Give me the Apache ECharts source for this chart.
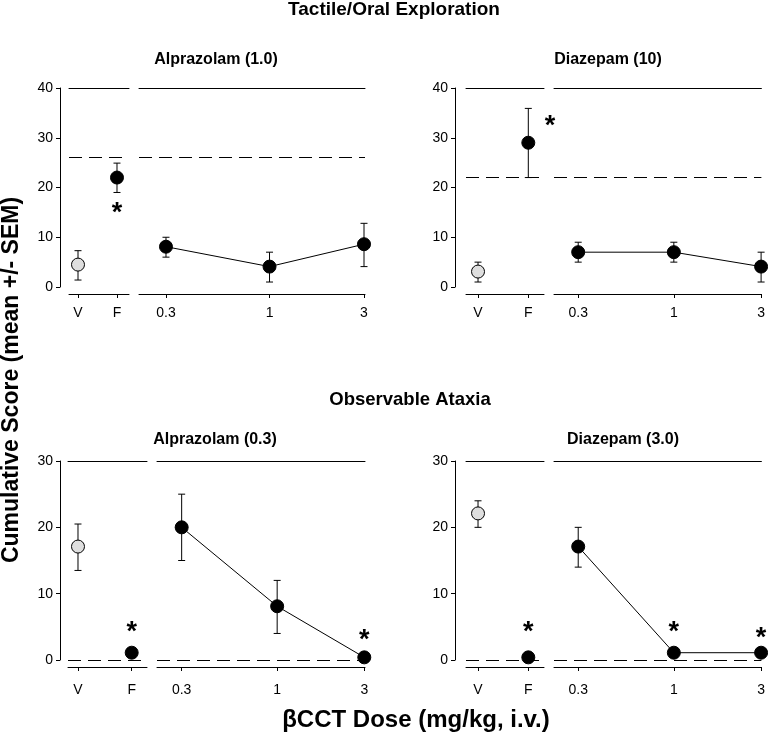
<!DOCTYPE html>
<html><head><meta charset="utf-8">
<script src="https://cdn.jsdelivr.net/npm/echarts@6/dist/echarts.min.js"></script>
<style>html,body{margin:0;padding:0;background:#fff}#c{width:768px;height:742px}</style>
</head><body><div id="c"></div>
<script>
// ---------- data ----------
const ctrlLabels = ['V', 'F'];
const ctrlPos = [1, 2];
const doseTicks = [0.3, 1, 3];

// Tactile/Oral Exploration – Alprazolam (1.0)
const taAlpCtrlMean = [4.5, 22.0];
const taAlpCtrlLow  = [1.4, 19.0];
const taAlpCtrlHigh = [7.3, 24.9];
const taAlpDoseMean = [8.1, 4.1, 8.6];
const taAlpDoseLow  = [6.0, 1.0, 4.1];
const taAlpDoseHigh = [10.0, 7.0, 12.8];
const taAlpRef = 26;
const taAlpStarsCtrl = [[2, 15.5]];
const taAlpStarsDose = [];

// Tactile/Oral Exploration – Diazepam (10)
const taDiaCtrlMean = [3.1, 29.0];
const taDiaCtrlLow  = [1.0, 22.0];
const taDiaCtrlHigh = [5.0, 35.9];
const taDiaDoseMean = [7.0, 7.0, 4.1];
const taDiaDoseLow  = [5.0, 5.0, 1.0];
const taDiaDoseHigh = [9.0, 9.0, 7.0];
const taDiaRef = 22;
const taDiaStarsCtrl = [[2.43, 33]];
const taDiaStarsDose = [];

// Observable Ataxia – Alprazolam (0.3)
const oaAlpCtrlMean = [17.1, 1.1];
const oaAlpCtrlLow  = [13.5, 1.1];
const oaAlpCtrlHigh = [20.5, 1.1];
const oaAlpDoseMean = [20.0, 8.1, 0.4];
const oaAlpDoseLow  = [15.0, 4.0, 0.4];
const oaAlpDoseHigh = [25.0, 12.0, 0.4];
const oaAlpRef = 0;
const oaAlpStarsCtrl = [[2, 4.8]];
const oaAlpStarsDose = [[3, 3.5]];

// Observable Ataxia – Diazepam (3.0)
const oaDiaCtrlMean = [22.1, 0.4];
const oaDiaCtrlLow  = [20.0, 0.4];
const oaDiaCtrlHigh = [24.0, 0.4];
const oaDiaDoseMean = [17.1, 1.1, 1.1];
const oaDiaDoseLow  = [14.0, 1.1, 1.1];
const oaDiaDoseHigh = [20.0, 1.1, 1.1];
const oaDiaRef = 0;
const oaDiaStarsCtrl = [[2, 4.8]];
const oaDiaStarsDose = [[1, 4.8], [3, 3.8]];

const yTicksTop = [0, 10, 20, 30, 40];
const yTicksBottom = [0, 10, 20, 30];

// ---------- layout ----------
const FONT = '"Liberation Sans", Arial, sans-serif';
const panels = [
  { d: { cm: taAlpCtrlMean, cl: taAlpCtrlLow, ch: taAlpCtrlHigh, dm: taAlpDoseMean, dl: taAlpDoseLow, dh: taAlpDoseHigh, ref: taAlpRef, sc: taAlpStarsCtrl, sd: taAlpStarsDose, yt: yTicksTop },
    top: 88, h: 199, yOff: 9, xOff: 7, lblM: 12,
    c: { left: 69, w: 60, min: 0.769, max: 2.308 },
    g: { left: 139, w: 226, min: 0.2192, max: 3.035 } },
  { d: { cm: taDiaCtrlMean, cl: taDiaCtrlLow, ch: taDiaCtrlHigh, dm: taDiaDoseMean, dl: taDiaDoseLow, dh: taDiaDoseHigh, ref: taDiaRef, sc: taDiaStarsCtrl, sd: taDiaStarsDose, yt: yTicksTop },
    top: 88, h: 199, yOff: 11, xOff: 7, lblM: 12,
    c: { left: 466, w: 78, min: 0.761, max: 2.312 },
    g: { left: 554, w: 208, min: 0.2212, max: 3.011 } },
  { d: { cm: oaAlpCtrlMean, cl: oaAlpCtrlLow, ch: oaAlpCtrlHigh, dm: oaAlpDoseMean, dl: oaAlpDoseLow, dh: oaAlpDoseHigh, ref: oaAlpRef, sc: oaAlpStarsCtrl, sd: oaAlpStarsDose, yt: yTicksBottom },
    top: 461, h: 199, yOff: 8, xOff: 7, lblM: 16,
    c: { left: 68, w: 79, min: 0.814, max: 2.285 },
    g: { left: 157, w: 208, min: 0.2198, max: 3.027 } },
  { d: { cm: oaDiaCtrlMean, cl: oaDiaCtrlLow, ch: oaDiaCtrlHigh, dm: oaDiaDoseMean, dl: oaDiaDoseLow, dh: oaDiaDoseHigh, ref: oaDiaRef, sc: oaDiaStarsCtrl, sd: oaDiaStarsDose, yt: yTicksBottom },
    top: 461, h: 199, yOff: 11, xOff: 7, lblM: 16,
    c: { left: 466, w: 78, min: 0.761, max: 2.312 },
    g: { left: 554, w: 208, min: 0.2212, max: 3.011 } }
];

function errRender(params, api) {
  const x = api.value(0), lo = api.value(1), hi = api.value(2);
  if (hi - lo < 1e-9) return null;
  const a = api.coord([x, lo]), b = api.coord([x, hi]);
  const w = 3.5, st = { stroke: '#000', lineWidth: 1 };
  return { type: 'group', children: [
    { type: 'line', shape: { x1: a[0], y1: a[1], x2: b[0], y2: b[1] }, style: st },
    { type: 'line', shape: { x1: a[0] - w, y1: a[1], x2: a[0] + w, y2: a[1] }, style: st },
    { type: 'line', shape: { x1: b[0] - w, y1: b[1], x2: b[0] + w, y2: b[1] }, style: st }
  ] };
}
function starRender(params, api) {
  const p = api.coord([api.value(0), api.value(1)]);
  return { type: 'text', x: p[0], y: p[1] + 4,
    style: { text: '*', font: 'bold 27px ' + FONT, fill: '#000', align: 'center', verticalAlign: 'middle' } };
}

const grid = [], xAxis = [], yAxis = [], series = [];
const black = '#000';
panels.forEach((P, i) => {
  const gc = 2 * i, gd = 2 * i + 1;
  grid.push({ left: P.c.left, width: P.c.w, top: P.top, height: P.h });
  grid.push({ left: P.g.left, width: P.g.w, top: P.top, height: P.h });
  const ymax = P.d.yt[P.d.yt.length - 1];
  xAxis.push({ type: 'value', gridIndex: gc, position: 'bottom', offset: P.xOff, min: P.c.min, max: P.c.max,
    axisLine: { show: true, onZero: false, lineStyle: { color: black, width: 1 } },
    axisTick: { show: true, customValues: ctrlPos, length: 4, lineStyle: { color: black } },
    axisLabel: { show: true, customValues: ctrlPos, margin: P.lblM, color: black, fontSize: 14, fontFamily: FONT,
      formatter: v => ctrlLabels[Math.round(v) - 1] },
    splitLine: { show: false } });
  xAxis.push({ type: 'value', gridIndex: gc, position: 'top', min: P.c.min, max: P.c.max,
    axisLine: { show: true, onZero: false, lineStyle: { color: black, width: 1 } },
    axisTick: { show: false }, axisLabel: { show: false }, splitLine: { show: false } });
  xAxis.push({ type: 'log', gridIndex: gd, position: 'bottom', offset: P.xOff, min: P.g.min, max: P.g.max, logBase: 10,
    axisLine: { show: true, onZero: false, lineStyle: { color: black, width: 1 } },
    axisTick: { show: true, customValues: doseTicks, length: 4, lineStyle: { color: black } },
    axisLabel: { show: true, customValues: doseTicks, margin: P.lblM, color: black, fontSize: 14, fontFamily: FONT,
      formatter: v => String(v) },
    splitLine: { show: false }, minorSplitLine: { show: false } });
  xAxis.push({ type: 'log', gridIndex: gd, position: 'top', min: P.g.min, max: P.g.max, logBase: 10,
    axisLine: { show: true, onZero: false, lineStyle: { color: black, width: 1 } },
    axisTick: { show: false }, axisLabel: { show: false }, splitLine: { show: false } });
  yAxis.push({ type: 'value', gridIndex: gc, min: 0, max: ymax, interval: 10, position: 'left', offset: P.yOff,
    axisLine: { show: true, onZero: false, lineStyle: { color: black, width: 1 } },
    axisTick: { show: true, length: 4, lineStyle: { color: black } },
    axisLabel: { margin: 7, color: black, fontSize: 14, fontFamily: FONT },
    splitLine: { show: false } });
  yAxis.push({ type: 'value', gridIndex: gd, min: 0, max: ymax, interval: 10, show: false, splitLine: { show: false } });

  const xc = 4 * i, xd = 4 * i + 2;
  const refLine = { silent: true, symbol: 'none', label: { show: false },
    lineStyle: { type: [13, 7], color: black, width: 1 }, data: [{ yAxis: P.d.ref }] };
  series.push({ type: 'custom', xAxisIndex: xc, yAxisIndex: gc, renderItem: errRender, z: 2,
    data: ctrlPos.map((x, k) => [x, P.d.cl[k], P.d.ch[k]]) });
  series.push({ type: 'scatter', xAxisIndex: xc, yAxisIndex: gc, symbol: 'circle', symbolSize: 13, z: 3,
    itemStyle: { color: black, borderColor: black, borderWidth: 1, opacity: 1 },
    data: ctrlPos.map((x, k) => k === 0 ? { value: [x, P.d.cm[k]], itemStyle: { color: '#dedede' } } : [x, P.d.cm[k]]),
    markLine: refLine });
  series.push({ type: 'custom', xAxisIndex: xd, yAxisIndex: gd, renderItem: errRender, z: 2,
    data: doseTicks.map((x, k) => [x, P.d.dl[k], P.d.dh[k]]) });
  series.push({ type: 'line', xAxisIndex: xd, yAxisIndex: gd, symbol: 'circle', symbolSize: 13, z: 3,
    lineStyle: { color: black, width: 1 }, itemStyle: { color: black, borderColor: black, borderWidth: 1 },
    data: doseTicks.map((x, k) => [x, P.d.dm[k]]), markLine: refLine });
  if (P.d.sc.length) series.push({ type: 'custom', xAxisIndex: xc, yAxisIndex: gc, renderItem: starRender, z: 4, clip: false, data: P.d.sc });
  if (P.d.sd.length) series.push({ type: 'custom', xAxisIndex: xd, yAxisIndex: gd, renderItem: starRender, z: 4, clip: false, data: P.d.sd });
});

function txt(s, x, y, size, rot) {
  return { type: 'text', x: x, y: y, rotation: rot || 0,
    style: { text: s, font: 'bold ' + size + 'px ' + FONT, fill: black, align: 'center', verticalAlign: 'middle' } };
}
const graphic = [
  txt('Tactile/Oral Exploration', 394, 10, 19),
  txt('Alprazolam (1.0)', 216, 60, 16),
  txt('Diazepam (10)', 608, 60, 16),
  txt('Observable Ataxia', 410, 400, 18.5),
  txt('Alprazolam (0.3)', 215, 440, 16),
  txt('Diazepam (3.0)', 623, 440, 16),
  txt('βCCT Dose (mg/kg, i.v.)', 416, 720, 24),
  txt('Cumulative Score (mean +/- SEM)', 12, 380, 23, Math.PI / 2)
];

const chart = echarts.init(document.getElementById('c'), null, { renderer: 'canvas' });
chart.setOption({ animation: false, backgroundColor: '#fff', grid, xAxis, yAxis, series, graphic });
</script></body></html>
